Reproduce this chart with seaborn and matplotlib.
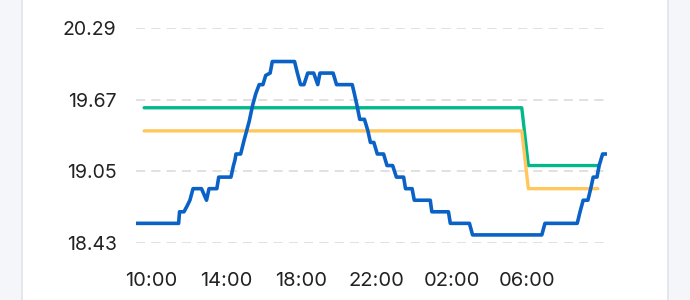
import matplotlib
matplotlib.use("Agg")
import matplotlib.pyplot as plt
from matplotlib.patches import Rectangle
import seaborn as sns
import pandas as pd

# ---- data ----
blue_times = ["09:12", "11:28", "11:31", "11:45", "11:55", "12:04", "12:14", "12:41", "12:57",
              "13:05", "13:30", "13:36", "14:15", "14:23", "14:28", "14:31", "14:46", "14:57",
              "15:13", "15:24", "15:34", "15:45", "15:57", "16:06", "16:20", "16:27", "17:38",
              "17:47", "17:57", "18:08", "18:20", "18:39", "18:52", "18:59", "19:41", "19:52",
              "20:42", "20:49", "20:58", "21:06", "21:21", "21:32", "21:40", "21:51", "22:02",
              "22:22", "22:33", "22:51", "23:03", "23:26", "23:32", "23:53", "00:00", "00:51",
              "00:56", "01:49", "01:55", "02:56", "03:06", "06:47", "06:57", "08:40", "08:49",
              "08:59", "09:14", "09:23", "09:31", "09:43", "09:50", "10:01", "10:15"]
blue_values = [18.6, 18.6, 18.7, 18.7, 18.75, 18.8, 18.9, 18.9, 18.8,
               18.9, 18.9, 19.0, 19.0, 19.1, 19.15, 19.2, 19.2, 19.32,
               19.48, 19.62, 19.72, 19.8, 19.8, 19.88, 19.9, 20.0, 20.0,
               19.9, 19.8, 19.8, 19.9, 19.9, 19.8, 19.9, 19.9, 19.8,
               19.8, 19.72, 19.61, 19.5, 19.5, 19.4, 19.3, 19.3, 19.2,
               19.2, 19.1, 19.1, 19.0, 19.0, 18.9, 18.9, 18.8, 18.8,
               18.7, 18.7, 18.6, 18.6, 18.5, 18.5, 18.6, 18.6, 18.7,
               18.8, 18.8, 18.9, 19.0, 19.0, 19.1, 19.2, 19.2]

green_times = ["09:38", "05:43", "06:04", "09:46"]
green_values = [19.6, 19.6, 19.1, 19.1]

orange_times = ["09:38", "05:43", "06:04", "09:46"]
orange_values = [19.4, 19.4, 18.9, 18.9]

y_ticks = [18.43, 19.05, 19.67, 20.29]
y_tick_labels = ["18.43", "19.05", "19.67", "20.29"]
x_tick_labels = ["10:00", "14:00", "18:00", "22:00", "02:00", "06:00"]


def to_datetimes(times, start_day="2024-01-01"):
    out = []
    day = pd.Timestamp(start_day)
    prev = None
    for t in times:
        h, m = map(int, t.split(":"))
        cur = h * 60 + m
        if prev is not None and cur < prev:
            day = day + pd.Timedelta(days=1)
        prev = cur
        out.append(day + pd.Timedelta(minutes=cur))
    return out


blue_df = pd.DataFrame({"time": to_datetimes(blue_times), "value": blue_values})
green_df = pd.DataFrame({"time": to_datetimes(green_times), "value": green_values})
orange_df = pd.DataFrame({"time": to_datetimes(orange_times), "value": orange_values})
x_tick_pos = to_datetimes(x_tick_labels)

sns.set_theme(style="white")
plt.rcParams["font.family"] = ["Inter", "DejaVu Sans"]

fig = plt.figure(figsize=(6.9, 3.0), dpi=100)
fig.patch.set_facecolor("white")
# side strips
fig.patches.append(Rectangle((0, 0), 22 / 690, 1, transform=fig.transFigure,
                             facecolor="#f4f6fa", edgecolor="none", zorder=0))
fig.patches.append(Rectangle((21 / 690, 0), 1.5 / 690, 1, transform=fig.transFigure,
                             facecolor="#e3e8f0", edgecolor="none", zorder=0))
fig.patches.append(Rectangle((668 / 690, 0), 22 / 690, 1, transform=fig.transFigure,
                             facecolor="#f4f6fa", edgecolor="none", zorder=0))
fig.patches.append(Rectangle((667 / 690, 0), 1.5 / 690, 1, transform=fig.transFigure,
                             facecolor="#e3e8f0", edgecolor="none", zorder=0))

ax = fig.add_axes([136 / 690, 57 / 300, 471 / 690, 215 / 300])
ax.set_facecolor("none")

sns.lineplot(data=green_df, x="time", y="value", ax=ax, color="#00b88a", linewidth=2.4,
             solid_joinstyle="round", solid_capstyle="round", zorder=3)
sns.lineplot(data=orange_df, x="time", y="value", ax=ax, color="#ffc75c", linewidth=2.4,
             solid_joinstyle="round", solid_capstyle="round", zorder=3)
sns.lineplot(data=blue_df, x="time", y="value", ax=ax, color="#0a62c6", linewidth=2.6,
             solid_joinstyle="round", solid_capstyle="round", zorder=4)

ax.set_xlim(blue_df["time"].min(), blue_df["time"].max())
ax.set_ylim(y_ticks[0], y_ticks[-1])
ax.set_yticks(y_ticks)
ax.set_yticklabels(y_tick_labels)
ax.set_xticks(x_tick_pos)
ax.set_xticklabels(x_tick_labels)
ax.set_xlabel("")
ax.set_ylabel("")

for s in ax.spines.values():
    s.set_visible(False)

ax.yaxis.grid(True, color="#d8d8d8", linestyle=(0, (6, 4)), linewidth=1.1)
ax.xaxis.grid(False)
ax.set_axisbelow(True)

ax.tick_params(axis="y", length=0, pad=14, labelsize=14, labelcolor="#222222")
ax.tick_params(axis="x", length=7, width=1.0, color="#d0d0d0", pad=14,
               labelsize=14.5, labelcolor="#222222", direction="out")

fig.savefig("out.png", dpi=100)
